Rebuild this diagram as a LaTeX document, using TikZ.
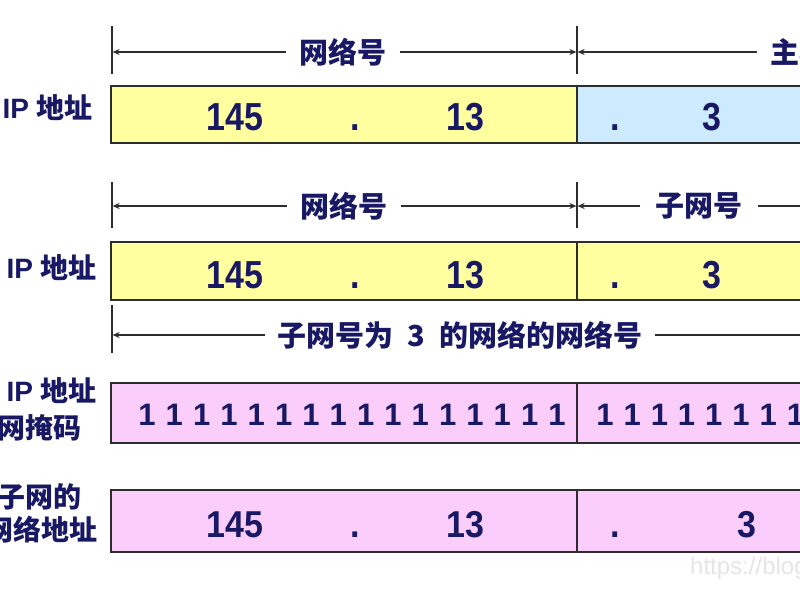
\documentclass[tikz,border=0pt]{standalone}
\usepackage{fontspec}
\setmainfont{Liberation Sans}
\newfontfamily\cjk{Noto Sans CJK SC}
\usetikzlibrary{arrows.meta}
\definecolor{txt}{RGB}{24,24,100}
\definecolor{yel}{RGB}{255,255,160}
\definecolor{blu}{RGB}{205,235,255}
\definecolor{pnk}{RGB}{250,205,250}
\definecolor{ln}{RGB}{45,45,45}
\begin{document}
\begin{tikzpicture}[x=1pt,y=-1pt,
  field/.style={draw=ln, line width=1.6pt},
  dimline/.style={draw=ln, line width=1.2pt},
  tipped/.style={-{Stealth[length=7pt,width=6pt]}},
  tickline/.style={draw=ln, line width=1.3pt},
  big/.style={text=txt, font=\fontsize{34}{34}\selectfont\bfseries, anchor=base, inner sep=0pt},
  one/.style={text=txt, font=\fontsize{31}{31}\selectfont\bfseries, anchor=base, inner sep=0pt},
  head/.style={text=txt, font=\fontsize{29}{29}\selectfont\bfseries\cjk, inner ysep=0pt, inner xsep=13pt},
  lab/.style={text=txt, font=\fontsize{28}{28}\selectfont\bfseries, anchor=east, inner sep=0pt},
]
\clip (0,0) rectangle (800,600);
\fill[white] (0,0) rectangle (800,600);

% ---- row 1 dimension lines
\draw[tickline] (112,26) -- (112,74);
\draw[tickline] (577,26) -- (577,74);
\coordinate (a1) at (112.6,52);
\coordinate (b1) at (576.4,52);
\coordinate (c1) at (577.6,52);
\node[head] (n1) at (343,52) {网络号};
\node[head, anchor=west] (h1) at (757,52) {主机号};
\draw[dimline,tipped] (n1.west) -- (a1);
\draw[dimline,tipped] (n1.east) -- (b1);
\draw[dimline,tipped] (h1.west) -- (c1);

% ---- row 1 box
\draw[field, fill=yel] (111,86) rectangle (577,143);
\draw[field, fill=blu] (577,86) rectangle (830,143);
\node[lab] (l1) at (93,108) {IP {\cjk 地址}};
\node[big] (r1a) at (235,130) {\scalebox{1}[1.15]{145}};
\node[big] (r1b) at (355,130) {\scalebox{1}[1.15]{.}};
\node[big] (r1c) at (465,130) {\scalebox{1}[1.15]{13}};
\node[big] (r1d) at (615,130) {\scalebox{1}[1.15]{.}};
\node[big] (r1e) at (712,130) {\scalebox{1}[1.15]{3}};

% ---- row 2 dimension lines
\draw[tickline] (112,182) -- (112,228);
\draw[tickline] (577,182) -- (577,228);
\coordinate (a2) at (112.6,206);
\coordinate (b2) at (576.4,206);
\coordinate (c2) at (577.6,206);
\coordinate (e2) at (840,206);
\node[head] (n2) at (344,206) {网络号};
\node[head, inner xsep=15pt] (s2) at (699,206) {子网号};
\draw[dimline,tipped] (n2.west) -- (a2);
\draw[dimline,tipped] (n2.east) -- (b2);
\draw[dimline,tipped] (s2.west) -- (c2);
\draw[dimline,tipped] (s2.east) -- (e2);

% ---- row 2 box
\draw[field, fill=yel] (111,242) rectangle (830,300);
\draw[field] (577,242) -- (577,300);
\node[lab] (l2) at (97,268) {IP {\cjk 地址}};
\node[big] (r2a) at (235,288) {\scalebox{1}[1.15]{145}};
\node[big] (r2b) at (355,288) {\scalebox{1}[1.15]{.}};
\node[big] (r2c) at (465,288) {\scalebox{1}[1.15]{13}};
\node[big] (r2d) at (615,288) {\scalebox{1}[1.15]{.}};
\node[big] (r2e) at (712,288) {\scalebox{1}[1.15]{3}};

% ---- row 3 dimension line
\draw[tickline] (112,305) -- (112,353);
\coordinate (a3) at (112.6,335);
\coordinate (e3) at (840,335);
\node[head, inner xsep=12pt] (n3) at (460,335) {子网号为\hspace{0.5em}3\hspace{0.5em}的网络的网络号};
\draw[dimline,tipped] (n3.west) -- (a3);
\draw[dimline,tipped] (n3.east) -- (e3);

% ---- row 4 box (mask)
\draw[field, fill=pnk] (111,383) rectangle (830,443);
\draw[field] (577,383) -- (577,443);
\node[lab] (l4a) at (97,391) {IP {\cjk 地址}};
\node[lab] (l4b) at (82,428) {\cjk 网掩码};
\foreach \i in {0,...,15} {
  \node[one] (m\i) at ({147+27.33*\i},425) {1};
}
\foreach \i in {0,...,8} {
  \node[one] (k\i) at ({605+27.2*\i},425) {1};
}

% ---- row 5 box
\draw[field, fill=pnk] (111,490) rectangle (830,552);
\draw[field] (577,490) -- (577,552);
\node[lab] (l5a) at (82,497) {\cjk 子网的};
\node[lab] (l5b) at (98,530) {\cjk 网络地址};
\node[big] (r5a) at (235,537) {\scalebox{1}[1.1]{145}};
\node[big] (r5b) at (355,537) {\scalebox{1}[1.1]{.}};
\node[big] (r5c) at (465,537) {\scalebox{1}[1.1]{13}};
\node[big] (r5d) at (615,537) {\scalebox{1}[1.1]{.}};
\node[big] (r5e) at (747,537) {\scalebox{1}[1.1]{3}};

% ---- watermark
\node[anchor=west, inner sep=0pt, text=black!10, font=\fontsize{24}{24}\selectfont] (wm) at (690,568) {https://blog};
\end{tikzpicture}
\end{document}
